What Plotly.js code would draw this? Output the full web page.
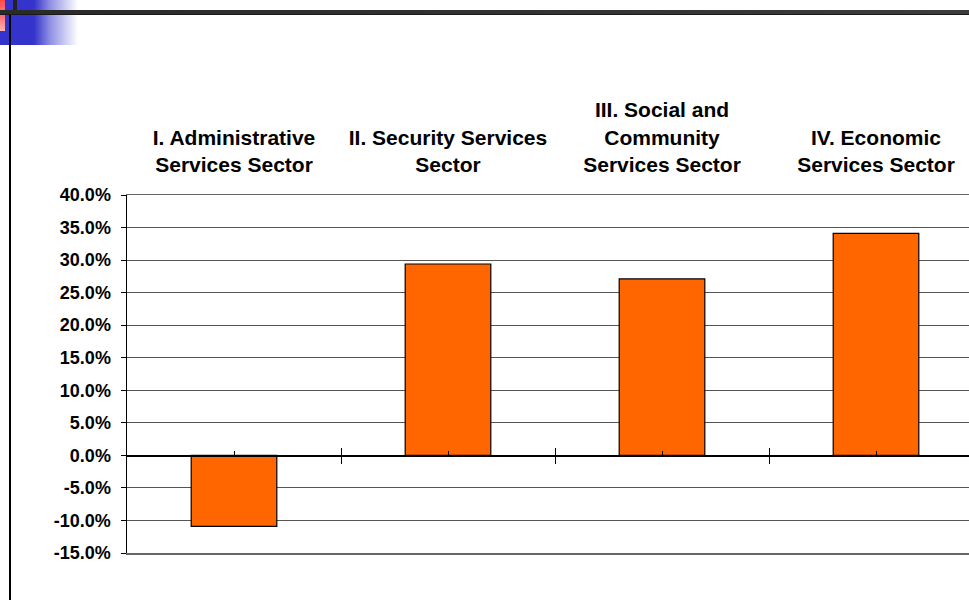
<!DOCTYPE html>
<html>
<head>
<meta charset="utf-8">
<script src="https://cdn.plot.ly/plotly-3.0.1.min.js"></script>
<style>
  html, body { margin: 0; padding: 0; width: 969px; height: 600px; overflow: hidden; background: #fff; }
  #wrap { position: relative; width: 969px; height: 600px; overflow: hidden; }
  #chart { position: absolute; left: 0; top: 0; width: 1000px; height: 600px; }
  .deco { position: absolute; }
</style>
</head>
<body>
<div id="wrap">
  <div class="deco" style="left:0;top:0;width:78px;height:45px;background:linear-gradient(to right,#3434cc 0px,#3434cc 34px,rgba(52,52,204,0.55) 50px,rgba(52,52,204,0) 78px);"></div>
  <div class="deco" style="left:0;top:0;width:5px;height:10px;background:linear-gradient(to bottom,#ff4848,#ff7070);"></div>
  <div class="deco" style="left:0;top:15px;width:5px;height:16px;background:linear-gradient(to bottom,#ff6868,#ffb4b4);"></div>
  <div class="deco" style="left:13px;top:0;width:4px;height:11px;background:#222;"></div>
  <div class="deco" style="left:0;top:10px;width:969px;height:5px;background:linear-gradient(to right,#2a2a2a,#333 60%,#3c3c3c);border-bottom:1px solid #1a1a1a;box-sizing:border-box;"></div>
  <div class="deco" style="left:9px;top:15px;width:1.5px;height:585px;background:#000;"></div>
  <div id="chart"></div>
</div>
<script>
  var categories = [
    "I. Administrative<br>Services Sector",
    "II. Security Services<br>Sector",
    "III. Social and<br>Community<br>Services Sector",
    "IV. Economic<br>Services Sector"
  ];
  var growthValues = [-0.109, 0.294, 0.271, 0.341];
  var positions = [1, 2, 3, 4];
  var yTickVals = [-0.15, -0.10, -0.05, 0, 0.05, 0.10, 0.15, 0.20, 0.25, 0.30, 0.35, 0.40];
  var yTickLabels = ["-15.0%", "-10.0%", "-5.0%", "0.0%", "5.0%", "10.0%", "15.0%", "20.0%", "25.0%", "30.0%", "35.0%", "40.0%"];
  var boundaryTicks = [1.5, 2.5, 3.5];

  var yMin = -0.15, yMax = 0.40;
  var zeroPos = (0 - yMin) / (yMax - yMin);

  var bars = {
    type: 'bar',
    x: positions,
    y: growthValues,
    width: 0.4,
    marker: { color: '#FF6600', line: { color: '#000000', width: 1.2 } },
    hoverinfo: 'skip'
  };
  var axisHolder2 = { type: 'scatter', mode: 'markers', x: [1], y: [0], xaxis: 'x2', yaxis: 'y', marker: { opacity: 0 }, hoverinfo: 'skip' };
  var axisHolder3 = { type: 'scatter', mode: 'markers', x: [1], y: [0], xaxis: 'x3', yaxis: 'y', marker: { opacity: 0 }, hoverinfo: 'skip' };

  var font = 'Arial, "Liberation Sans", sans-serif';

  var layout = {
    width: 1000,
    height: 600,
    margin: { l: 127, r: 17, t: 195, b: 47 },
    paper_bgcolor: 'rgba(0,0,0,0)',
    plot_bgcolor: 'rgba(0,0,0,0)',
    showlegend: false,
    font: { family: font, color: '#000' },
    xaxis: {
      range: [0.5, 4.5],
      side: 'top',
      tickmode: 'array',
      tickvals: positions,
      ticktext: categories,
      ticks: '',
      showline: true,
      mirror: true,
      linecolor: '#666',
      linewidth: 1.5,
      showgrid: false,
      zeroline: false,
      tickfont: { size: 21, family: font, weight: 'bold', color: '#000' },
      ticklabelstandoff: 13
    },
    xaxis2: {
      overlaying: 'x',
      anchor: 'free',
      position: zeroPos,
      range: [0.5, 4.5],
      tickmode: 'array',
      tickvals: boundaryTicks,
      ticks: 'outside',
      ticklen: 7,
      tickwidth: 1,
      tickcolor: '#000',
      showticklabels: false,
      showline: true,
      linecolor: '#000',
      linewidth: 1.5,
      showgrid: false,
      zeroline: false
    },
    xaxis3: {
      overlaying: 'x',
      anchor: 'free',
      position: zeroPos,
      range: [0.5, 4.5],
      tickmode: 'array',
      tickvals: boundaryTicks,
      ticks: 'inside',
      ticklen: 7,
      tickwidth: 1,
      tickcolor: '#000',
      minor: { tickvals: positions, ticks: 'inside', ticklen: 4, tickcolor: '#000', tickwidth: 1 },
      showticklabels: false,
      showline: false,
      showgrid: false,
      zeroline: false
    },
    yaxis: {
      range: [yMin, yMax],
      tickmode: 'array',
      tickvals: yTickVals,
      ticktext: yTickLabels,
      ticks: 'outside',
      ticklen: 5,
      tickcolor: '#000',
      showline: true,
      linecolor: '#000',
      linewidth: 1.5,
      showgrid: true,
      gridcolor: '#555',
      gridwidth: 1,
      zeroline: false,
      tickfont: { size: 18, family: font, weight: 'bold', color: '#000' },
      ticklabelstandoff: 6
    }
  };

  Plotly.newPlot('chart', [bars, axisHolder2, axisHolder3], layout, { displayModeBar: false, staticPlot: true });
</script>
</body>
</html>
